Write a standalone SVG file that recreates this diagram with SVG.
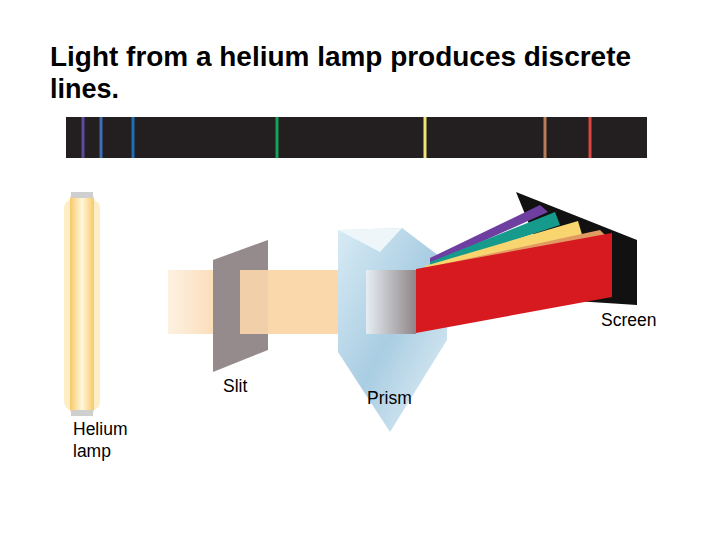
<svg xmlns="http://www.w3.org/2000/svg" width="720" height="540" viewBox="0 0 720 540">
<style>
.t{font-family:"Liberation Sans",Arial,sans-serif;fill:#000}
.lbl{font-size:17.5px}
</style>
<defs>
<linearGradient id="lamp" x1="0" x2="1"><stop offset="0" stop-color="#f7c96a"/><stop offset="0.5" stop-color="#fff7dc"/><stop offset="1" stop-color="#f7c96a"/></linearGradient>
<linearGradient id="prism" x1="0" x2="1" y1="0" y2="1"><stop offset="0" stop-color="#d8ebf5"/><stop offset="0.5" stop-color="#a9cde2"/><stop offset="1" stop-color="#e7f2f8"/></linearGradient>
<linearGradient id="beamIn" x1="0" x2="1"><stop offset="0" stop-color="#fdf1e2"/><stop offset="0.25" stop-color="#fbd7ac"/><stop offset="1" stop-color="#fbd7ac"/></linearGradient>
<linearGradient id="beamP" x1="0" x2="1"><stop offset="0" stop-color="#e6eef3"/><stop offset="1" stop-color="#8f8588"/></linearGradient>
</defs>
<text class="t" x="50" y="66" font-size="27" font-weight="bold" textLength="581" lengthAdjust="spacingAndGlyphs">Light from a helium lamp produces discrete</text>
<text class="t" x="50" y="98" font-size="27" font-weight="bold">lines.</text>
<g id="spectrum">
<rect x="66" y="117" width="581" height="41" fill="#231f20"/>
<g stroke-width="3">
<line x1="83" y1="117" x2="83" y2="158" stroke="#5b4a9e"/>
<line x1="101" y1="117" x2="101" y2="158" stroke="#3f6cb4"/>
<line x1="133" y1="117" x2="133" y2="158" stroke="#1f6fb4"/>
<line x1="277" y1="117" x2="277" y2="158" stroke="#17a15a"/>
<line x1="425" y1="117" x2="425" y2="158" stroke="#f3e275"/>
<line x1="545" y1="117" x2="545" y2="158" stroke="#b97d55"/>
<line x1="590" y1="117" x2="590" y2="158" stroke="#d9473f"/>
</g>
</g>
<g id="lamp-g">
<rect x="64" y="200" width="36" height="210" rx="8" fill="#fbe3a0" opacity="0.6"/>
<rect x="70" y="195" width="24" height="218" rx="4" fill="url(#lamp)"/>
<rect x="71" y="192" width="22" height="6" fill="#cfcfcf"/>
<rect x="71" y="410" width="22" height="6" fill="#cfcfcf"/>
</g>
<g id="beam">
<polygon points="168,270 416,270 416,334 168,334" fill="url(#beamIn)"/>
</g>
<g id="slit">
<polygon points="213,260 268,240 268,350 213,372" fill="#958b8d"/>
<polygon points="240,270 268,270 268,334 240,334" fill="#fbd7ac" opacity="0.9"/>
</g>
<g id="screen">
<polygon points="516,192 637,240 637,305 560,300" fill="#111"/>
</g>
<g id="prism-g">
<polygon points="338,230 402,228 447,262 447,340 390,432 338,352" fill="url(#prism)"/>
<polygon points="338,230 402,228 380,252" fill="#eef6fa"/>
</g>
<g id="colors">
<polygon points="430,258 540,205 548,212 430,265" fill="#6e3ea0"/>
<polygon points="430,262 555,212 560,225 430,268" fill="#159a8c"/>
<polygon points="425,266 578,221 583,238 425,271" fill="#f8d56e"/>
<polygon points="420,269 600,230 606,236 420,272" fill="#e29a63"/>
<polygon points="366,270 416,270 416,334 366,334" fill="url(#beamP)"/>
<polygon points="416,269 612,233 612,297 416,333" fill="#d71920"/>
</g>
<g id="labels">
<text class="t lbl" x="601" y="326">Screen</text>
<text class="t lbl" x="223" y="392">Slit</text>
<text class="t lbl" x="367" y="404">Prism</text>
<text class="t lbl" x="73" y="435">Helium</text>
<text class="t lbl" x="73" y="457">lamp</text>
</g>
</svg>
